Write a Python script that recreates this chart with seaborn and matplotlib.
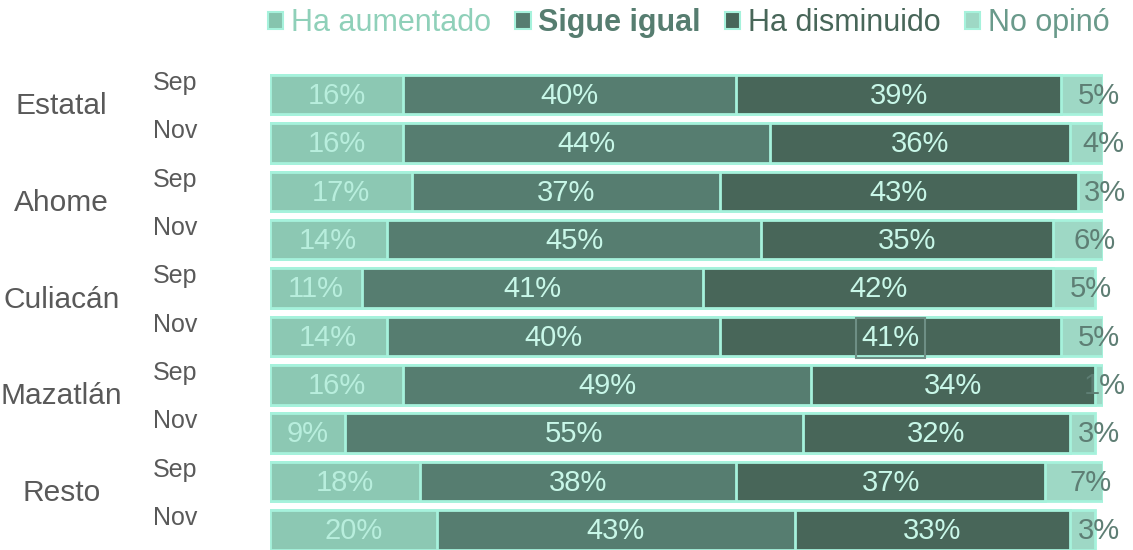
import numpy as np
import pandas as pd
import matplotlib
matplotlib.use("Agg")
import matplotlib.pyplot as plt
import matplotlib.patches as mpatches
import seaborn as sns

# datos
grupos = ["Estatal", "Ahome", "Culiacán", "Mazatlán", "Resto"]
periodos = ["Sep", "Nov"]
series = ["Ha aumentado", "Sigue igual", "Ha disminuido", "No opinó"]
ha_aumentado = [16, 16, 17, 14, 11, 14, 16, 9, 18, 20]
sigue_igual = [40, 44, 37, 45, 41, 40, 49, 55, 38, 43]
ha_disminuido = [39, 36, 43, 35, 42, 41, 34, 32, 37, 33]
no_opino = [5, 4, 3, 6, 5, 5, 1, 3, 7, 3]

colores = ["#8CC8B3", "#567D70", "#486659", "#9ED8C5"]
color_borde = "#A6F2DC"
color_txt = ["#B8EEDD", "#C8F7E8", "#C8F7E8", "#5E7E74"]

sns.set_theme(style="white")
plt.rcParams["font.family"] = ["Liberation Sans", "DejaVu Sans"]

filas = [f"{g} {p}" for g in grupos for p in periodos]
df = pd.DataFrame({"fila": filas, "Ha aumentado": ha_aumentado, "Sigue igual": sigue_igual,
                   "Ha disminuido": ha_disminuido, "No opinó": no_opino})
acum = df[series].cumsum(axis=1)

fig = plt.figure(figsize=(11.33, 5.5), dpi=100)
ax = fig.add_axes([270 / 1133, 0.0, 833 / 1133, 479.5 / 550])

# barras apiladas: dibujar acumulados de mayor a menor
for s, c in reversed(list(zip(series, colores))):
    sns.barplot(x=acum[s], y=df["fila"], orient="h", color=c, width=0.82,
                edgecolor=color_borde, linewidth=2, ax=ax, saturation=1)

# etiquetas de porcentaje
for i in range(len(filas)):
    inicio = 0
    for j, s in enumerate(series):
        v = df[s].iloc[i]
        if j == 3:
            xc = min(inicio + v / 2 + 2.0, 100.2)
        else:
            xc = inicio + v / 2
        kw = {}
        if filas[i] == "Culiacán Nov" and j == 2:
            kw["bbox"] = dict(boxstyle="square,pad=0.2", fc="none", ec="#6E8F85", lw=1.5)
        ax.text(xc, i + 0.03, f"{v}%", ha="center", va="center", fontsize=21,
                color=color_txt[j], **kw)
        inicio += v

ax.set_xlim(0, 100)
ax.set_ylim(9.42, -0.5)
ax.set_xticks([])
ax.set_yticks([])
ax.set_xlabel("")
ax.set_ylabel("")
sns.despine(ax=ax, left=True, bottom=True)

# etiquetas de filas
for i, f in enumerate(filas):
    ax.text(-0.114, i - 0.24, f.split(" ")[1], transform=ax.get_yaxis_transform(),
            ha="center", va="center", fontsize=18, color="#595959")
for k, g in enumerate(grupos):
    ax.text(-0.25, 2 * k + 0.5 - 0.26, g, transform=ax.get_yaxis_transform(),
            ha="center", va="center", fontsize=21.5, color="#595959")

# leyenda
handles = [mpatches.Patch(facecolor=c, edgecolor=color_borde, linewidth=1.5) for c in
           ["#86C4AE", "#567D70", "#486659", "#9ED8C5"]]
leg = fig.legend(handles, series, loc="center", bbox_to_anchor=(0.608, 0.958), ncol=4,
                 frameon=False, fontsize=22, handlelength=0.5, handleheight=0.5,
                 handletextpad=0.25, columnspacing=0.8)
for t, c in zip(leg.get_texts(), ["#8FD0B9", "#567D70", "#486659", "#6A9A8B"]):
    t.set_color(c)
leg.get_texts()[1].set_fontweight("bold")

fig.savefig("out.png", dpi=100)
